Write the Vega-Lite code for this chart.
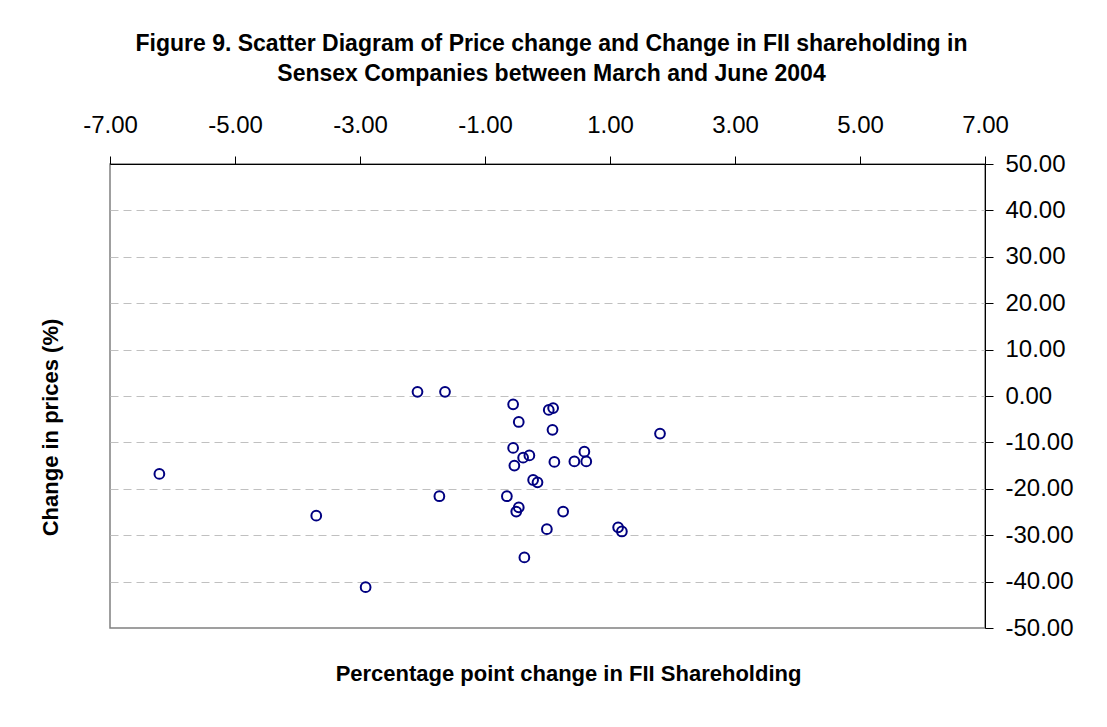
{
  "$schema": "https://vega.github.io/schema/vega-lite/v6.json",
  "width": 875,
  "height": 464,
  "autosize": "none",
  "padding": {"left": 110, "top": 164, "right": 122, "bottom": 99},
  "background": "white",
  "title": {
    "text": ["Figure 9. Scatter Diagram of Price change and Change in FII shareholding in", "Sensex Companies between  March and June 2004"],
    "font": "Liberation Sans",
    "fontSize": 23,
    "fontWeight": "bold",
    "color": "black",
    "lineHeight": 30,
    "anchor": "middle",
    "dx": 4,
    "offset": 27
  },
  "data": {
    "values": [
      {"fii_change": -6.21, "price_change": -16.8},
      {"fii_change": -3.70, "price_change": -25.8},
      {"fii_change": -2.91, "price_change": -41.2},
      {"fii_change": -2.08, "price_change": 0.9},
      {"fii_change": -1.64, "price_change": 0.9},
      {"fii_change": -1.73, "price_change": -21.6},
      {"fii_change": -0.55, "price_change": -1.8},
      {"fii_change": -0.46, "price_change": -5.6},
      {"fii_change": -0.55, "price_change": -11.2},
      {"fii_change": -0.29, "price_change": -12.8},
      {"fii_change": -0.39, "price_change": -13.3},
      {"fii_change": -0.53, "price_change": -15.0},
      {"fii_change": -0.23, "price_change": -18.1},
      {"fii_change": -0.16, "price_change": -18.6},
      {"fii_change": -0.65, "price_change": -21.6},
      {"fii_change": -0.46, "price_change": -24.0},
      {"fii_change": -0.50, "price_change": -24.9},
      {"fii_change": -0.37, "price_change": -34.8},
      {"fii_change": -0.01, "price_change": -28.7},
      {"fii_change": 0.02, "price_change": -3.0},
      {"fii_change": 0.09, "price_change": -2.6},
      {"fii_change": 0.08, "price_change": -7.3},
      {"fii_change": 0.11, "price_change": -14.2},
      {"fii_change": 1.80, "price_change": -8.1},
      {"fii_change": 0.43, "price_change": -14.1},
      {"fii_change": 0.59, "price_change": -12.0},
      {"fii_change": 0.62, "price_change": -14.1},
      {"fii_change": 0.25, "price_change": -24.9},
      {"fii_change": 1.13, "price_change": -28.3},
      {"fii_change": 1.19, "price_change": -29.2}
    ]
  },
  "layer": [
    {
      "mark": {"type": "point", "opacity": 0},
      "encoding": {
        "x": {
          "field": "fii_change", "type": "quantitative",
          "scale": {"domain": [-7, 7], "nice": false, "zero": false},
          "axis": {
            "orient": "bottom", "title": "Percentage point change in FII Shareholding",
            "labels": false, "ticks": false, "domain": false, "grid": false,
            "titleFont": "Liberation Sans", "titleFontSize": 22, "titleFontWeight": "bold", "titleColor": "black",
            "titleX": 458, "titleY": 45, "titleBaseline": "middle", "titleAlign": "center"
          }
        },
        "y": {
          "field": "price_change", "type": "quantitative",
          "scale": {"domain": [-50, 50], "nice": false, "zero": false},
          "axis": {
            "orient": "left", "title": "Change in prices (%)",
            "labels": false, "ticks": false, "domain": false,
            "grid": true, "values": [-40, -30, -20, -10, 0, 10, 20, 30, 40],
            "gridColor": "#c0c0c0", "gridDash": [8, 5], "gridWidth": 1,
            "titleFont": "Liberation Sans", "titleFontSize": 22, "titleFontWeight": "bold", "titleColor": "black",
            "titleX": -60, "titleY": 263, "titleBaseline": "middle", "titleAlign": "center", "titleAngle": -90
          }
        }
      }
    },
    {
      "mark": {"type": "point", "filled": false, "color": "#000080", "size": 95, "strokeWidth": 2, "opacity": 1},
      "encoding": {
        "x": {
          "field": "fii_change", "type": "quantitative",
          "scale": {"domain": [-7, 7], "nice": false, "zero": false},
          "axis": {
            "orient": "top", "title": null, "grid": false,
            "values": [-7, -5, -3, -1, 1, 3, 5, 7],
            "labelExpr": "replace(format(datum.value, '.2f'), '\u2212', '-')",
            "labelFont": "Liberation Sans", "labelFontSize": 24, "labelColor": "black",
            "labelPadding": 19, "tickSize": 8, "tickColor": "black", "domainColor": "black", "domainWidth": 1,
            "labelOverlap": false, "labelFlush": false
          }
        },
        "y": {
          "field": "price_change", "type": "quantitative",
          "scale": {"domain": [-50, 50], "nice": false, "zero": false},
          "axis": {
            "orient": "right", "title": null, "grid": false,
            "values": [-50, -40, -30, -20, -10, 0, 10, 20, 30, 40, 50],
            "labelExpr": "replace(format(datum.value, '.2f'), '\u2212', '-')",
            "labelFont": "Liberation Sans", "labelFontSize": 24, "labelColor": "black",
            "labelPadding": 12, "tickSize": 8, "tickColor": "black", "domainColor": "black", "domainWidth": 1,
            "labelOverlap": false, "labelFlush": false, "labelAlign": "left", "labelBaseline": "middle"
          }
        }
      }
    }
  ],
  "resolve": {"axis": {"x": "independent", "y": "independent"}},
  "config": {
    "view": {"stroke": "#808080", "strokeWidth": 1.5},
    "font": "Liberation Sans"
  }
}
